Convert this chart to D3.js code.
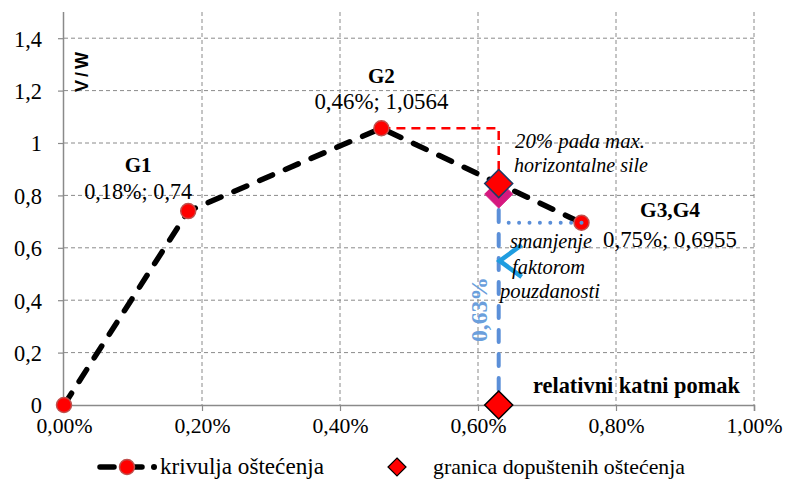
<!DOCTYPE html>
<html><head><meta charset="utf-8">
<script src="https://cdn.jsdelivr.net/npm/d3@7"></script>
<style>body{margin:0;background:#fff}svg{display:block}</style>
</head><body>
<svg id="c" width="785" height="481"></svg>
<script>
// data
const curveX = [0, 0.18, 0.46, 0.75];           // relativni katni pomak (%)
const curveY = [0, 0.74, 1.0564, 0.6955];       // V/W
const pointNames = ["", "G1", "G2", "G3,G4"];
const pointLabels = ["", "0,18%; 0,74", "0,46%; 1,0564", "0,75%; 0,6955"];
const limitX = [0.63, 0.63];                    // granica dopuštenih oštećenja
const limitY = [0, 0.84512];
const reducedX = [0.63];                        // reduced point
const reducedY = [0.805];
const xTicks = [0, 0.2, 0.4, 0.6, 0.8, 1.0];
const xTickLabels = ["0,00%", "0,20%", "0,40%", "0,60%", "0,80%", "1,00%"];
const yTicks = [0, 0.2, 0.4, 0.6, 0.8, 1, 1.2, 1.4];
const yTickLabels = ["0", "0,2", "0,4", "0,6", "0,8", "1", "1,2", "1,4"];
const legendLabels = ["krivulja oštećenja", "granica dopuštenih oštećenja"];

const svg = d3.select("#c");
const x = d3.scaleLinear().domain([0, 1]).range([64, 754]);
const y = d3.scaleLinear().domain([0, 1.5]).range([405, 12]);
const serif = '"Liberation Serif","Times New Roman","DejaVu Serif",serif';

// fit a text element's font size so its width matches a target
function fit(sel, target) {
  const n = sel.node();
  const s = parseFloat(sel.attr("font-size"));
  const w = n.getComputedTextLength();
  if (w > 0) sel.attr("font-size", (s * target / w).toFixed(2));
  return sel;
}

// grid
const g = svg.append("g");
g.selectAll(".hg").data(yTicks.filter(d => d > 0)).enter().append("line")
  .attr("x1", x(0)).attr("x2", x(1)).attr("y1", d => y(d)).attr("y2", d => y(d))
  .attr("stroke", "#8a8a8a").attr("stroke-width", 1).attr("stroke-dasharray", "4,3");
g.selectAll(".vg").data(xTicks.filter(d => d > 0)).enter().append("line")
  .attr("x1", d => x(d)).attr("x2", d => x(d)).attr("y1", y(1.5)).attr("y2", y(0))
  .attr("stroke", "#8a8a8a").attr("stroke-width", 1).attr("stroke-dasharray", "4,3");

// axes
const xAxis = d3.axisBottom(x).tickValues(xTicks).tickFormat((d, i) => xTickLabels[i]).tickSize(6).tickPadding(7);
const yAxis = d3.axisLeft(y).tickValues(yTicks).tickFormat((d, i) => yTickLabels[i]).tickSize(6).tickPadding(16);
const gx = svg.append("g").attr("transform", `translate(0,${y(0)})`).call(xAxis);
const gy = svg.append("g").attr("transform", `translate(${x(0)},0)`).call(yAxis);
gy.select(".domain").attr("d", `M-0.5,${y(1.5)}V${y(0)}`);
[gx, gy].forEach(a => {
  a.attr("font-family", null);
  a.selectAll(".domain").attr("stroke", "#8a8a8a").attr("stroke-width", 1.5);
  a.selectAll(".tick line").attr("stroke", "#8a8a8a").attr("stroke-width", 1.2);
  a.selectAll("text").style("font-family", serif).attr("font-size", 20).attr("fill", "#000");
});
gy.selectAll("text").attr("dy", "0.35em");
// size tick labels from reference widths
{
  const t0 = gx.select(".tick text"); fit(t0, 56);
  const fs = t0.attr("font-size"); gx.selectAll("text").attr("font-size", fs);
  const t8 = gy.selectAll(".tick text").filter((d) => d === 0.8); fit(t8, 28);
  gy.selectAll("text").attr("font-size", t8.attr("font-size"));
}

// blue dashed vertical line (0,63%)
svg.append("line").attr("x1", x(reducedX[0])).attr("x2", x(reducedX[0]))
  .attr("y1", y(reducedY[0]) + 16).attr("y2", y(0) - 14)
  .attr("stroke", "#5b8fd8").attr("stroke-width", 4).attr("stroke-linecap", "round")
  .attr("stroke-dasharray", "12,12");

// red dashed from G2 to upper limit diamond
svg.append("path")
  .attr("d", `M${x(curveX[2])},${y(curveY[2])}H${x(limitX[1])}V${y(limitY[1])}`)
  .attr("fill", "none").attr("stroke", "#ff0000").attr("stroke-width", 2.5).attr("stroke-dasharray", "9,6");

// black dashed curve
const line = d3.line().x((d, i) => x(curveX[i])).y((d, i) => y(curveY[i]));
svg.append("path").datum(curveY).attr("d", line)
  .attr("fill", "none").attr("stroke", "#000").attr("stroke-width", 5.5)
  .attr("stroke-linecap", "round").attr("stroke-dasharray", "14,14");

// markers
svg.selectAll(".pt").data(curveY).enter().append("circle")
  .attr("cx", (d, i) => x(curveX[i])).attr("cy", d => y(d)).attr("r", 7.5)
  .attr("fill", "#ff0000").attr("stroke", "#c0504d").attr("stroke-width", 1.5);

// blue dotted horizontal (drawn from G3 leftwards)
svg.append("line").attr("x1", x(curveX[3])).attr("x2", x(reducedX[0]) + 9)
  .attr("y1", y(curveY[3])).attr("y2", y(curveY[3]))
  .attr("stroke", "#5b8fd8").attr("stroke-width", 4).attr("stroke-linecap", "round")
  .attr("stroke-dasharray", "0,10.4");

// diamonds
const dia = s => `M0,${-s}L${s},0L0,${s}L${-s},0Z`;
svg.append("path").attr("d", dia(14))
  .attr("transform", `translate(${x(reducedX[0])},${y(reducedY[0])})`)
  .attr("fill", "#d6187f").attr("stroke", "#d6187f").attr("stroke-width", 1);
svg.append("path").attr("d", dia(14))
  .attr("transform", `translate(${x(limitX[1])},${y(limitY[1])})`)
  .attr("fill", "#ff0000").attr("stroke", "#1f3864").attr("stroke-width", 1.5);
svg.append("path").attr("d", dia(14))
  .attr("transform", `translate(${x(limitX[0])},${y(limitY[0])})`)
  .attr("fill", "#ff0000").attr("stroke", "#000").attr("stroke-width", 1.5);

// blue chevron
const cx0 = x(reducedX[0]) + 1, cy0 = y(0.55);
svg.append("path").attr("d", `M${cx0 + 22},${cy0 - 16}L${cx0},${cy0}L${cx0 + 22},${cy0 + 16}`)
  .attr("fill", "none").attr("stroke", "#1f9de0").attr("stroke-width", 4.5);

// labels
const t = (txt, px, py, o) => {
  const e = svg.append("text").attr("x", px).attr("y", py).text(txt)
    .style("font-family", o.family || serif).attr("font-size", o.size || 20)
    .attr("text-anchor", o.anchor || "start").attr("fill", o.fill || "#000");
  if (o.bold) e.attr("font-weight", "bold");
  if (o.italic) e.attr("font-style", "italic");
  if (o.rotate) e.attr("transform", `rotate(-90,${px},${py})`);
  if (o.ls) e.attr("letter-spacing", o.ls);
  if (o.w) fit(e, o.w);
  return e;
};
t(pointNames[1], x(curveX[1]) - 50, 172, {bold: true, anchor: "middle", w: 27});
t(pointLabels[1], x(curveX[1]) - 50, 199, {anchor: "middle", w: 108});
t(pointNames[2], x(curveX[2]), 83, {bold: true, anchor: "middle", w: 27});
t(pointLabels[2], x(curveX[2]), 109, {anchor: "middle", w: 134});
t(pointNames[3], 670, 217, {bold: true, anchor: "middle", w: 60});
t(pointLabels[3], 670, 247, {anchor: "middle", w: 134});

t("20% pada max.", 515, 148, {italic: true, size: 19, w: 130});
t("horizontalne sile", 514, 172, {italic: true, size: 19, w: 134});
t("smanjenje", 510, 248, {italic: true, size: 19, w: 82});
t("faktorom", 512, 274, {italic: true, size: 19, w: 73});
t("pouzdanosti", 500, 298, {italic: true, size: 19, w: 100});
t("relativni katni pomak", 533, 393, {bold: true, size: 19, w: 207});
t("0,63%", 487, 342, {bold: true, size: 20, rotate: true, fill: "#6b9fdc", w: 65});
t("V/W", 88, 92, {bold: true, size: 18, rotate: true, family: '"Liberation Sans",Arial,sans-serif', ls: 3});

// legend
const ly = 467;
svg.append("line").attr("x1", 100).attr("x2", 143).attr("y1", ly).attr("y2", ly)
  .attr("stroke", "#000").attr("stroke-width", 5.5).attr("stroke-linecap", "round").attr("stroke-dasharray", "14,14");
svg.append("circle").attr("cx", 127).attr("cy", ly).attr("r", 7.5)
  .attr("fill", "#ff0000").attr("stroke", "#c0504d").attr("stroke-width", 1.5);
svg.append("circle").attr("cx", 154).attr("cy", ly).attr("r", 3).attr("fill", "#000");
t(legendLabels[0], 160, ly + 7, {w: 164});
svg.append("path").attr("d", dia(9)).attr("transform", `translate(397,${ly})`)
  .attr("fill", "#ff0000").attr("stroke", "#000").attr("stroke-width", 1.2);
t(legendLabels[1], 433, ly + 7, {w: 252});
</script>
</body></html>
